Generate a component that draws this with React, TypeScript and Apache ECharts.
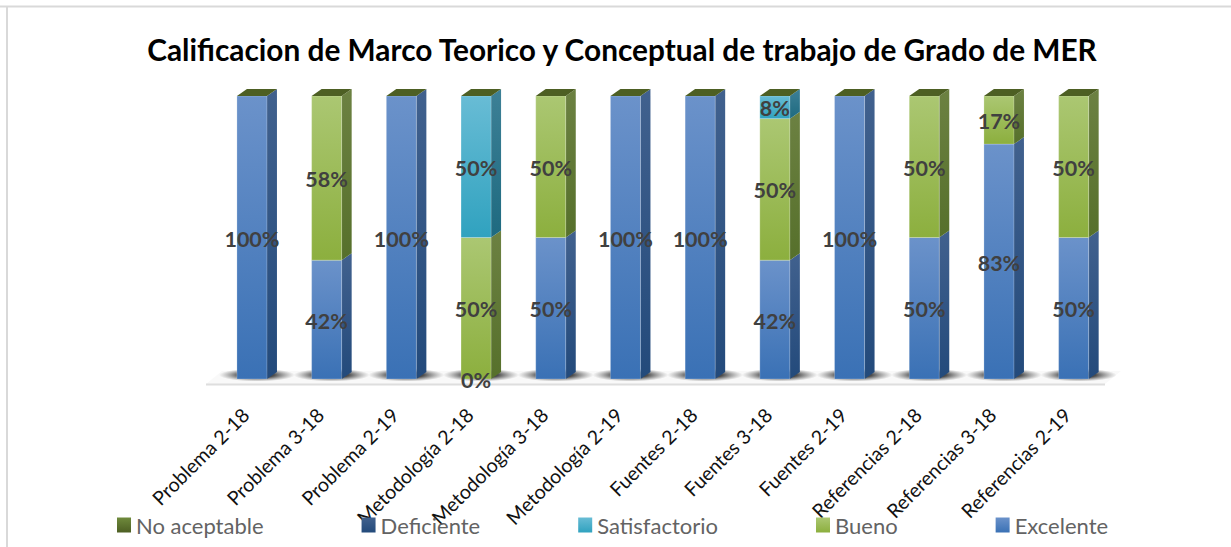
import React, { useEffect, useRef } from "react";
import * as echarts from "echarts";

const titleText = "Calificacion de Marco Teorico y Conceptual de trabajo de Grado de MER";
const categories = [
  "Problema 2-18", "Problema 3-18", "Problema 2-19",
  "Metodología 2-18", "Metodología 3-18", "Metodología 2-19",
  "Fuentes 2-18", "Fuentes 3-18", "Fuentes 2-19",
  "Referencias 2-18", "Referencias 3-18", "Referencias 2-19",
];
const excelente = [100, 42, 100, 0, 50, 100, 100, 42, 100, 50, 83, 50];
const bueno = [null, 58, null, 50, 50, null, null, 50, null, 50, 17, 50];
const satisfactorio = [null, null, null, 50, null, null, null, 8, null, null, null, null];
const deficiente = [null, null, null, null, null, null, null, null, null, null, null, null];
const noAceptable = [0, 0, 0, 0, 0, 0, 0, 0, 0, 0, 0, 0];

const grad = (a: string, b: string) =>
  new echarts.graphic.LinearGradient(0, 0, 0, 1, [
    { offset: 0, color: a },
    { offset: 1, color: b },
  ]);

const seriesDefs = [
  { name: "Excelente", values: excelente, front: ["#6B92CA", "#3A71B5"], side: ["#41618E", "#234A7B"], labelZero: true },
  { name: "Bueno", values: bueno, front: ["#ABC772", "#8CAF3E"], side: ["#6C8142", "#56702B"], labelZero: false },
  { name: "Satisfactorio", values: satisfactorio, front: ["#68BCD5", "#30A2BF"], side: ["#3D8096", "#1E6A80"], labelZero: false },
  { name: "Deficiente", values: deficiente, front: ["#41618E", "#234A7B"], side: ["#41618E", "#234A7B"], labelZero: false },
  { name: "No aceptable", values: noAceptable, front: ["#6F8A3C", "#4D5F23"], side: ["#4D5F23", "#4D5F23"], labelZero: false, cap: true },
];

const DEPTH_X = 10;
const DEPTH_Y = 7;

function buildSeries() {
  const base = categories.map(() => 0);
  const bars = seriesDefs.map((def) => {
    const data = def.values.map((v, i) => {
      const start = base[i];
      base[i] = start + (v ?? 0);
      return [i, start, base[i], v];
    }).filter((d) => d[3] !== null);
    return {
      type: "custom",
      name: def.name,
      coordinateSystem: "cartesian2d",
      itemStyle: { color: grad(def.front[0], def.front[1]) },
      encode: { x: 0, y: 2 },
      data,
      renderItem: (_p: any, api: any) => {
        const i = api.value(0);
        const from = api.value(1);
        const to = api.value(2);
        const val = api.value(3);
        const [cx, yBot] = api.coord([i, from]);
        const [, yTop] = api.coord([i, to]);
        const w = api.size([1, 0])[0] * 0.402;
        const x0 = cx - w / 2;
        const x1 = cx + w / 2;
        const children: any[] = [];
        if (yBot - yTop > 0) {
          children.push({
            type: "polygon",
            shape: { points: [[x1, yTop], [x1 + DEPTH_X, yTop - DEPTH_Y], [x1 + DEPTH_X, yBot - DEPTH_Y], [x1, yBot]] },
            style: { fill: grad(def.side[0], def.side[1]) },
          });
          children.push({
            type: "rect",
            shape: { x: x0, y: yTop, width: w, height: yBot - yTop },
            style: { fill: grad(def.front[0], def.front[1]), stroke: "rgba(255,255,255,0.22)", lineWidth: 1 },
          });
        }
        if ((def as any).cap) {
          children.push({
            type: "polygon",
            shape: { points: [[x0, yTop], [x0 + DEPTH_X, yTop - DEPTH_Y], [x1 + DEPTH_X, yTop - DEPTH_Y], [x1, yTop]] },
            style: { fill: "#4D5F23" },
          });
        } else if (val > 0 || def.labelZero) {
          children.push({
            type: "text",
            z2: 20,
            style: {
              x: cx,
              y: (yTop + yBot) / 2 + 1,
              text: `${val}%`,
              align: "center",
              verticalAlign: "middle",
              fill: "#404040",
              font: "bold 21.5px Lato",
            },
          });
        }
        return { type: "group", children };
      },
      z: 5,
    };
  });
  const floor = {
    type: "custom",
    coordinateSystem: "cartesian2d",
    silent: true,
    legendHoverLink: false,
    data: categories.map((_, i) => [i, 0]),
    encode: { x: 0, y: 1 },
    z: 3,
    renderItem: (_p: any, api: any) => {
      const [cx, y] = api.coord([api.value(0), 0]);
      return {
        type: "ellipse",
        shape: { cx: cx + 5, cy: y - 4, rx: 38, ry: 6.5 },
        style: {
          fill: new echarts.graphic.RadialGradient(0.5, 0.5, 0.5, [
            { offset: 0, color: "rgba(25,25,25,0.95)" },
            { offset: 0.45, color: "rgba(35,35,35,0.8)" },
            { offset: 1, color: "rgba(90,90,90,0)" },
          ]),
        },
      };
    },
  };
  return [floor, ...bars];
}

export default function App() {
  const ref = useRef<HTMLDivElement>(null);
  useEffect(() => {
    const chart = echarts.init(ref.current!, undefined, { renderer: "svg" });
    chart.setOption({
      animation: false,
      backgroundColor: "#fff",
      title: {
        text: titleText,
        left: 617,
        top: 29,
        textAlign: "center",
        textStyle: { fontFamily: "Lato", fontWeight: "bold", fontSize: 29.8, color: "#000" },
      },
      legend: {
        left: 112,
        top: 509,
        itemWidth: 14,
        itemHeight: 15,
        itemGap: 98,
        icon: "rect",
        data: ["No aceptable", "Deficiente", "Satisfactorio", "Bueno", "Excelente"],
        textStyle: { fontFamily: "Lato", fontSize: 22, color: "#636363", padding: [0, 0, 2, 0] },
      },
      grid: { left: 214.6, top: 96, width: 896.4, height: 283 },
      xAxis: {
        type: "category",
        data: categories,
        axisLine: { show: false },
        axisTick: { show: false },
        axisLabel: {
          interval: 0,
          rotate: 45,
          margin: 26,
          padding: [0, 9, 0, 0],
          fontFamily: "Lato",
          fontSize: 19.6,
          color: "#111",
        },
      },
      yAxis: { type: "value", min: 0, max: 100, show: false },
      graphic: [
        { type: "line", shape: { x1: 0, y1: 6.5, x2: 1231, y2: 6.5 }, style: { stroke: "#d9d9d9", lineWidth: 2 } },
        { type: "line", shape: { x1: 7, y1: 6, x2: 7, y2: 547 }, style: { stroke: "#d9d9d9", lineWidth: 2 } },
        {
          type: "polygon",
          shape: { points: [[206, 384], [1105, 384], [1121, 371], [222, 371]] },
          style: { fill: "#f9f9f9" },
        },
        { type: "line", shape: { x1: 206, y1: 384.5, x2: 1105, y2: 384.5 }, style: { stroke: "#dedede", lineWidth: 2 } },
      ],
      series: buildSeries(),
    });
    return () => chart.dispose();
  }, []);
  return <div ref={ref} style={{ position: "absolute", left: 0, top: 0, width: 1231, height: 547 }} />;
}
